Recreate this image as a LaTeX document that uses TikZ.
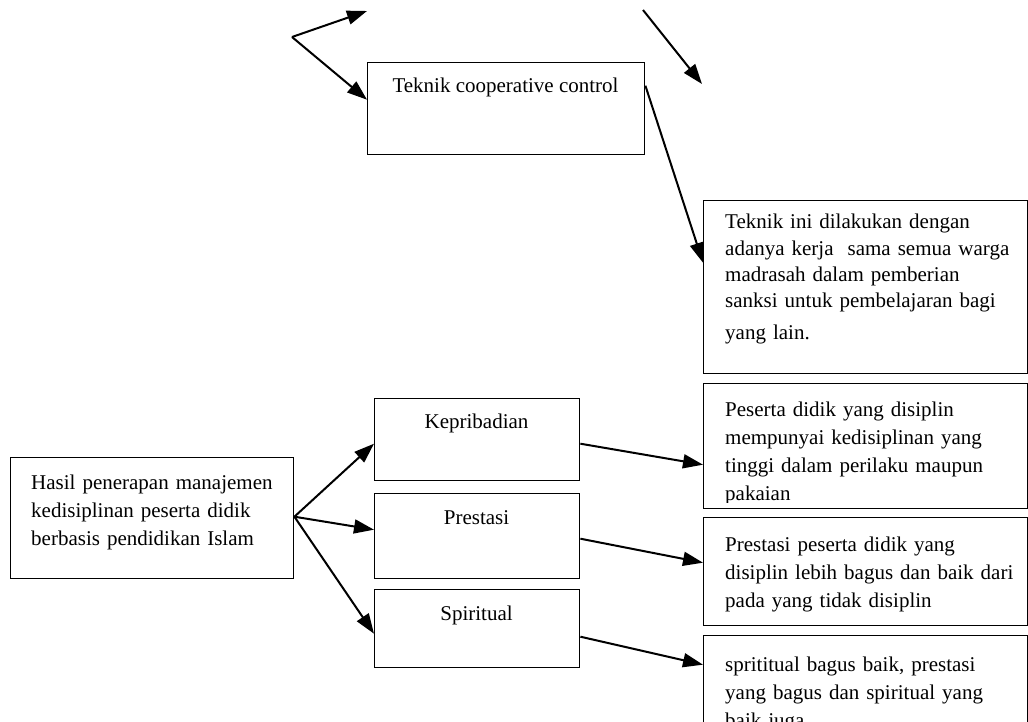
\documentclass[tikz,border=0pt]{standalone}
\usepackage{fontspec}
\setmainfont{Liberation Serif}
\usetikzlibrary{arrows.meta}
\begin{document}
\begin{tikzpicture}[x=1pt,y=-1pt,
  box/.style={draw, line width=1.4pt, inner sep=0pt, anchor=north west},
  lbl/.style={inner sep=0pt, anchor=base, font=\fontsize{21}{28}\selectfont},
  para/.style={inner sep=0pt, anchor=base west, text width=300pt, align=left, font=\fontsize{21}{28}\selectfont},
  arr/.style={line width=2pt, -{Triangle[length=20pt,width=14pt]}}]
\useasboundingbox (0,0) rectangle (1028,722);

% top part
\coordinate (fork) at (292,37);
\coordinate (t1) at (367,11);
\coordinate (r1) at (643,10);
\coordinate (r2) at (702,84);
\node[box, minimum width=277pt, minimum height=92pt] (tcc) at (367,62) {};
\node[lbl] (tcct) at (505.5,93) {Teknik cooperative control};
\node[box, minimum width=324pt, minimum height=173pt] (tini) at (703,200) {};
\node[para, font=\fontsize{21}{26.3}\selectfont] (tinit) at (725,229) {Teknik ini dilakukan dengan\\ adanya kerja\ \ sama semua warga\\ madrasah dalam pemberian\\ sanksi untuk pembelajaran bagi\\[5pt] yang lain.};

\draw[arr] (fork) -- (t1);
\draw[arr] (fork) -- ([yshift=9pt]tcc.west);
\draw[arr] (r1) -- (r2);
\draw[arr] ([yshift=23pt]tcc.east) -- ([yshift=24.5pt]tini.west);

% bottom part
\node[box, minimum width=283pt, minimum height=121pt] (hasil) at (10,457) {};
\node[para] (hasilt) at (31,489) {Hasil penerapan manajemen\\ kedisiplinan peserta didik\\ berbasis pendidikan Islam};

\node[box, minimum width=205pt, minimum height=82pt] (kep) at (374,398) {};
\node[lbl] (kept) at (476.5,428) {Kepribadian};
\node[box, minimum width=205pt, minimum height=85pt] (pres) at (374,493) {};
\node[lbl] (prest) at (476.5,524) {Prestasi};
\node[box, minimum width=205pt, minimum height=78pt] (spir) at (374,589) {};
\node[lbl] (spirt) at (476.5,620) {Spiritual};

\node[box, minimum width=324pt, minimum height=125pt] (pes) at (703,383) {};
\begin{scope}
\clip (703,383) rectangle (1027,502);
\node[para] (pest) at (725,416) {Peserta didik yang disiplin\\ mempunyai kedisiplinan yang\\ tinggi dalam perilaku maupun\\ pakaian};
\end{scope}
\node[box, minimum width=324pt, minimum height=108pt] (pre) at (703,517) {};
\node[para] (pret) at (725,551) {Prestasi peserta didik yang\\ disiplin lebih bagus dan baik dari\\ pada yang tidak disiplin};
\node[box, minimum width=324pt, minimum height=100pt] (spr) at (703,635) {};
\node[para] (sprt) at (725,671) {sprititual bagus baik, prestasi\\ yang bagus dan spiritual yang\\ baik juga};

\draw[arr] ([yshift=1.5pt]hasil.east) -- ([yshift=-4pt]kep.west);
\draw[arr] ([yshift=1.5pt]hasil.east) -- ([yshift=6.5pt]pres.west);
\draw[arr] ([yshift=1.5pt]hasil.east) -- ([yshift=-5pt]spir.west);

\draw[arr] ([yshift=-4pt]kep.east) -- ([yshift=-18.5pt]pes.west);
\draw[arr] ([yshift=-2.5pt]pres.east) -- ([yshift=9pt]pre.west);
\draw[arr] ([yshift=-8pt]spir.east) -- ([yshift=21pt]spr.west);
\end{tikzpicture}
\end{document}
